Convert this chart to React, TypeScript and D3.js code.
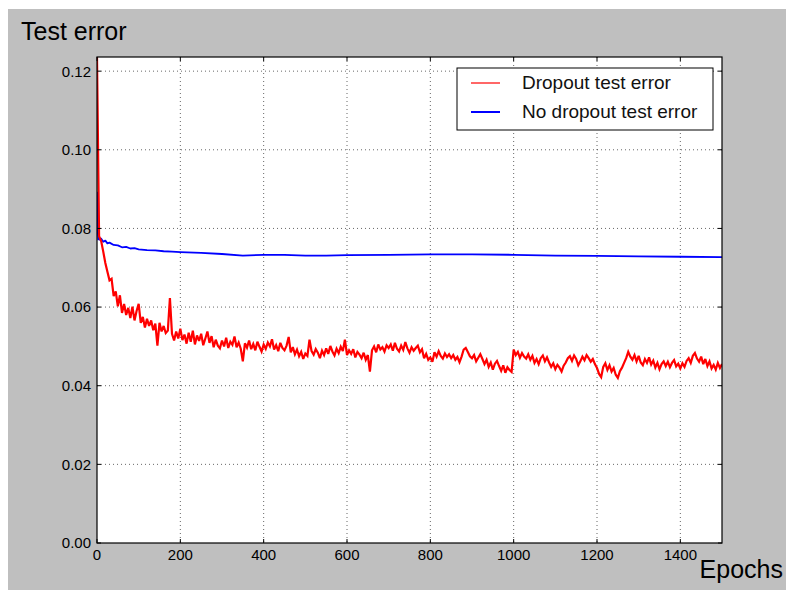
import React from "react";
import * as d3 from "d3";

// Dropout test error, sampled every 5 epochs from 0 to 1500
const dropoutStep = 5;
const dropoutError = [
  0.1236, 0.0780, 0.0768, 0.0741, 0.0712, 0.0690, 0.0668, 0.0672, 0.0628, 0.0640,
  0.0602, 0.0630, 0.0585, 0.0608, 0.0580, 0.0598, 0.0572, 0.0601, 0.0566, 0.0590,
  0.0608, 0.0560, 0.0575, 0.0548, 0.0570, 0.0552, 0.0566, 0.0541, 0.0558, 0.0502,
  0.0560, 0.0538, 0.0552, 0.0534, 0.0540, 0.0623, 0.0532, 0.0515, 0.0538, 0.0520,
  0.0545, 0.0516, 0.0530, 0.0507, 0.0535, 0.0512, 0.0540, 0.0505, 0.0528, 0.0514,
  0.0532, 0.0503, 0.0520, 0.0538, 0.0509, 0.0526, 0.0498, 0.0517, 0.0502, 0.0495,
  0.0515, 0.0500, 0.0522, 0.0496, 0.0512, 0.0504, 0.0525, 0.0498, 0.0510, 0.0494,
  0.0462, 0.0508, 0.0497, 0.0515, 0.0493, 0.0506, 0.0490, 0.0512, 0.0499, 0.0487,
  0.0505, 0.0494, 0.0510, 0.0500, 0.0518, 0.0492, 0.0503, 0.0488, 0.0509, 0.0496,
  0.0490, 0.0502, 0.0524, 0.0485, 0.0498, 0.0480, 0.0492, 0.0475, 0.0486, 0.0468,
  0.0482, 0.0476, 0.0517, 0.0488, 0.0479, 0.0493, 0.0484, 0.0470, 0.0489, 0.0478,
  0.0495, 0.0481, 0.0501, 0.0487, 0.0477, 0.0494, 0.0483, 0.0499, 0.0488, 0.0517,
  0.0478, 0.0490, 0.0481, 0.0493, 0.0472, 0.0486, 0.0479, 0.0470, 0.0484, 0.0466,
  0.0478, 0.0436, 0.0490, 0.0500, 0.0485, 0.0505, 0.0492, 0.0498, 0.0487, 0.0503,
  0.0496, 0.0505, 0.0489, 0.0509, 0.0494, 0.0487, 0.0502, 0.0491, 0.0511, 0.0495,
  0.0484, 0.0498, 0.0489, 0.0496, 0.0502, 0.0485, 0.0493, 0.0470, 0.0481, 0.0466,
  0.0472, 0.0461, 0.0485, 0.0474, 0.0488, 0.0476, 0.0469, 0.0482, 0.0473, 0.0480,
  0.0470, 0.0478, 0.0466, 0.0473, 0.0460, 0.0474, 0.0492, 0.0496, 0.0486, 0.0475,
  0.0470, 0.0478, 0.0462, 0.0471, 0.0480, 0.0468, 0.0455, 0.0466, 0.0448, 0.0459,
  0.0441, 0.0456, 0.0463, 0.0450, 0.0438, 0.0452, 0.0433, 0.0447, 0.0440, 0.0435,
  0.0492, 0.0478, 0.0486, 0.0471, 0.0483, 0.0474, 0.0469, 0.0480, 0.0466, 0.0476,
  0.0458, 0.0468, 0.0455, 0.0470, 0.0477, 0.0462, 0.0472, 0.0459, 0.0448, 0.0457,
  0.0442, 0.0453, 0.0446, 0.0436, 0.0451, 0.0459, 0.0470, 0.0475, 0.0463, 0.0477,
  0.0468, 0.0452, 0.0462, 0.0474, 0.0465, 0.0478, 0.0470, 0.0461, 0.0468, 0.0455,
  0.0445, 0.0430, 0.0422, 0.0448, 0.0457, 0.0440, 0.0452, 0.0436, 0.0445, 0.0428,
  0.0420, 0.0437, 0.0446, 0.0458, 0.0470, 0.0486, 0.0474, 0.0466, 0.0478, 0.0462,
  0.0476, 0.0459, 0.0452, 0.0468, 0.0458, 0.0472, 0.0454, 0.0464, 0.0446, 0.0458,
  0.0442, 0.0455, 0.0462, 0.0450, 0.0461, 0.0447, 0.0458, 0.0465, 0.0449, 0.0456,
  0.0444, 0.0457, 0.0448, 0.0463, 0.0470, 0.0458, 0.0476, 0.0483, 0.0469, 0.0461,
  0.0474, 0.0455, 0.0468, 0.0450, 0.0462, 0.0444, 0.0453, 0.0441, 0.0458, 0.0445,
  0.0455,
];

// No-dropout test error: [epoch, value]
const noDropoutEpochs = [
  0, 1, 2, 3, 5, 8, 10, 15, 20, 25, 30, 40, 50, 60, 70, 80, 90, 100, 120, 140,
  160, 180, 200, 250, 300, 350, 400, 450, 500, 550, 600, 700, 800, 900, 1000,
  1100, 1200, 1300, 1400, 1500,
];
const noDropoutError = [
  0.0893, 0.0850, 0.0790, 0.0772, 0.0778, 0.0770, 0.0774, 0.0766, 0.0769, 0.0762,
  0.0764, 0.0758, 0.0757, 0.0752, 0.0753, 0.0749, 0.0750, 0.0747, 0.0745, 0.0744,
  0.0742, 0.0741, 0.0740, 0.0738, 0.0735, 0.0731, 0.0733, 0.0733, 0.0731, 0.0731,
  0.0732, 0.0733, 0.0734, 0.0734, 0.0733, 0.0731, 0.0730, 0.0729, 0.0728, 0.0727,
];

const xTicks = [0, 200, 400, 600, 800, 1000, 1200, 1400];
const yTicks = [0, 0.02, 0.04, 0.06, 0.08, 0.1, 0.12];
const seriesNames = ["Dropout test error", "No dropout test error"];
const seriesColors = ["#ff0000", "#0000ff"];
const titleText = "Test error";
const xLabelText = "Epochs";

const W = 786;
const H = 590;
const L = 97, R = 722, T = 57, B = 543;
const FONT = "'Liberation Sans', Arial, Helvetica, sans-serif";

export default function App() {
  const x = d3.scaleLinear().domain([0, 1500]).range([L, R]);
  const y = d3.scaleLinear().domain([0, 0.1236]).range([B, T]);

  const redData: [number, number][] = dropoutError.map((v, i) => [i * dropoutStep, v]);
  const blueData: [number, number][] = noDropoutEpochs.map((e, i) => [e, noDropoutError[i]]);
  const line = d3
    .line<[number, number]>()
    .x((d) => x(d[0]))
    .y((d) => y(d[1]));

  const tickLen = 4;

  return (
    <svg
      width={W}
      height={H}
      style={{ position: "absolute", left: 0, top: 0, display: "block" }}
      fontFamily={FONT}
    >
      <rect x={0} y={0} width={W} height={H} fill="#ffffff" />
      <rect x={8} y={9} width={W - 8} height={H - 9} fill="#bfbfbf" />
      <defs>
        <clipPath id="plotClip">
          <rect x={L} y={T} width={R - L} height={B - T} />
        </clipPath>
      </defs>
      <rect x={L} y={T} width={R - L} height={B - T} fill="#ffffff" />

      {/* grid */}
      {xTicks.filter((t) => t > 0).map((t) => (
        <line
          key={"gx" + t}
          x1={x(t)}
          x2={x(t)}
          y1={T}
          y2={B}
          stroke="#000"
          strokeOpacity={0.6}
          strokeWidth={1}
          strokeDasharray="1,3"
        />
      ))}
      {yTicks.filter((t) => t > 0).map((t) => (
        <line
          key={"gy" + t}
          x1={L}
          x2={R}
          y1={y(t)}
          y2={y(t)}
          stroke="#000"
          strokeOpacity={0.6}
          strokeWidth={1}
          strokeDasharray="1,3"
        />
      ))}

      {/* series */}
      <g clipPath="url(#plotClip)">
        <path d={line(blueData) || ""} fill="none" stroke={seriesColors[1]} strokeWidth={1.8} strokeLinejoin="round" />
        <path d={line(redData) || ""} fill="none" stroke={seriesColors[0]} strokeWidth={2.2} strokeLinejoin="miter" strokeMiterlimit={3} />
      </g>

      {/* ticks */}
      {xTicks.map((t) => (
        <g key={"tx" + t}>
          <line x1={x(t)} x2={x(t)} y1={B} y2={B - tickLen} stroke="#000" />
          <line x1={x(t)} x2={x(t)} y1={T} y2={T + tickLen} stroke="#000" />
          <text x={x(t)} y={560} textAnchor="middle" fontSize={15} fill="#000">
            {t}
          </text>
        </g>
      ))}
      {yTicks.map((t) => (
        <g key={"ty" + t}>
          <line x1={L} x2={L + tickLen} y1={y(t)} y2={y(t)} stroke="#000" />
          <line x1={R} x2={R - tickLen} y1={y(t)} y2={y(t)} stroke="#000" />
          <text x={91} y={y(t)} dy="0.36em" textAnchor="end" fontSize={15} fill="#000">
            {t.toFixed(2)}
          </text>
        </g>
      ))}

      {/* frame */}
      <rect x={L} y={T} width={R - L} height={B - T} fill="none" stroke="#000" strokeWidth={1.2} />

      {/* legend */}
      <rect x={457} y={68} width={256} height={62} fill="#ffffff" stroke="#000" strokeWidth={1} />
      <line x1={471} x2={500} y1={83} y2={83} stroke={seriesColors[0]} strokeWidth={1.2} />
      <line x1={471} x2={500} y1={112} y2={112} stroke={seriesColors[1]} strokeWidth={2} />
      <text x={522} y={88.5} fontSize={19} fill="#111">{seriesNames[0]}</text>
      <text x={522} y={117.5} fontSize={19} fill="#111">{seriesNames[1]}</text>

      {/* titles */}
      <text x={21} y={40} fontSize={25} fill="#000">{titleText}</text>
      <text x={783} y={578} fontSize={25} textAnchor="end" fill="#000">{xLabelText}</text>
    </svg>
  );
}
